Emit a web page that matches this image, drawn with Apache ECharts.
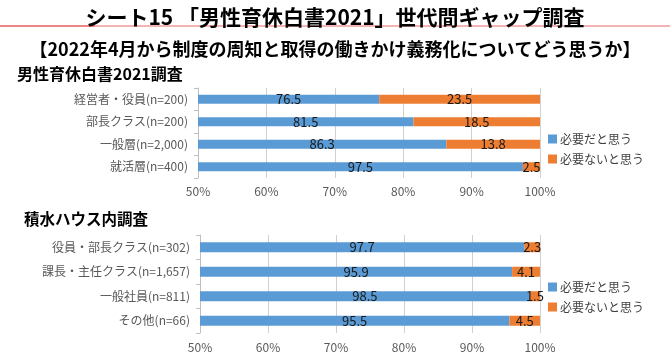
<!DOCTYPE html>
<html>
<head>
<meta charset="utf-8">
<script src="https://cdn.jsdelivr.net/npm/echarts@6/dist/echarts.min.js"></script>
<style>
html, body { margin: 0; padding: 0; background: #fff; }
#main { width: 670px; height: 354px; }
</style>
</head>
<body>
<div id="main"></div>
<script>
// 男性育休白書2021調査
var cats1 = ['経営者・役員(n=200)', '部長クラス(n=200)', '一般層(n=2,000)', '就活層(n=400)'];
var need1 = [76.5, 81.5, 86.3, 97.5];
var noNeed1 = [23.5, 18.5, 13.8, 2.5];
// 積水ハウス内調査
var cats2 = ['役員・部長クラス(n=302)', '課長・主任クラス(n=1,657)', '一般社員(n=811)', 'その他(n=66)'];
var need2 = [97.7, 95.9, 98.5, 95.5];
var noNeed2 = [2.3, 4.1, 1.5, 4.5];
var xTicks = [50, 60, 70, 80, 90, 100];
var legendNames = ['必要だと思う', '必要ないと思う'];

var font = '"Noto Sans CJK JP", "Noto Sans", sans-serif';
var blue = '#5B9BD5';
var orange = '#ED7D31';

function xAxisOf(gridIndex, margin) {
	return {
		type: 'value',
		gridIndex: gridIndex,
		min: xTicks[0],
		max: xTicks[xTicks.length - 1],
		interval: 10,
		axisLine: { show: false },
		axisTick: { show: false },
		axisLabel: {
			formatter: '{value}%',
			color: '#595959',
			fontSize: 12,
			fontFamily: font,
			margin: margin
		},
		splitLine: { lineStyle: { color: '#d0d0d0', width: 1 } }
	};
}

function yAxisOf(gridIndex, data) {
	return {
		type: 'category',
		gridIndex: gridIndex,
		data: data,
		inverse: true,
		axisLine: { show: true, lineStyle: { color: '#bfbfbf' } },
		axisTick: { show: true, length: 4, lineStyle: { color: '#bfbfbf' } },
		axisLabel: { color: '#595959', fontSize: 12, fontFamily: font, margin: 10 }
	};
}

function barOf(name, data, idx, color) {
	return {
		name: name,
		type: 'bar',
		stack: 'total' + idx,
		xAxisIndex: idx,
		yAxisIndex: idx,
		data: data,
		barWidth: idx === 0 ? 9 : 10,
		itemStyle: { color: color },
		label: {
			show: true,
			position: 'inside',
			color: '#1a1a1a',
			fontSize: 13,
			fontFamily: font
		}
	};
}

function legendOf(top) {
	return {
		data: legendNames,
		orient: 'vertical',
		left: 543,
		top: top,
		itemWidth: 9,
		itemHeight: 9,
		itemGap: 8,
		icon: 'rect',
		selectedMode: false,
		textStyle: { color: '#404040', fontSize: 12, fontFamily: font, padding: [0, 0, 0, -2] }
	};
}

var chart = echarts.init(document.getElementById('main'));
var option = {
	backgroundColor: '#fff',
	animation: false,
	title: [
		{
			text: 'シート15 「男性育休白書2021」世代間ギャップ調査',
			left: 'center',
			top: 2,
			textStyle: { fontSize: 21, fontWeight: 'bold', color: '#000', fontFamily: font }
		},
		{
			text: '【2022年4月から制度の周知と取得の働きかけ義務化についてどう思うか】',
			left: 'center',
			top: 35,
			textStyle: { fontSize: 18, fontWeight: 'bold', color: '#000', fontFamily: font }
		},
		{
			text: '男性育休白書2021調査',
			left: 12,
			top: 61,
			textStyle: { fontSize: 16, fontWeight: 'bold', color: '#000', fontFamily: font }
		},
		{
			text: '積水ハウス内調査',
			left: 19,
			top: 206,
			textStyle: { fontSize: 15.5, fontWeight: 'bold', color: '#000', fontFamily: font }
		}
	],
	graphic: [
		{ type: 'rect', left: 0, top: 25, shape: { width: 95, height: 2 }, style: { fill: '#f08585' } },
		{ type: 'rect', left: 95, top: 25, shape: { width: 575, height: 2 }, style: { fill: '#f6b3b3' } }
	],
	legend: [legendOf(128), legendOf(276)],
	grid: [
		{ left: 198, right: 130, top: 88, height: 90 },
		{ left: 200, right: 130, top: 235, height: 98 }
	],
	xAxis: [xAxisOf(0, 7), xAxisOf(1, 8)],
	yAxis: [yAxisOf(0, cats1), yAxisOf(1, cats2)],
	series: [
		barOf(legendNames[0], need1, 0, blue),
		barOf(legendNames[1], noNeed1, 0, orange),
		barOf(legendNames[0], need2, 1, blue),
		barOf(legendNames[1], noNeed2, 1, orange)
	]
};
chart.setOption(option);
</script>
</body>
</html>
